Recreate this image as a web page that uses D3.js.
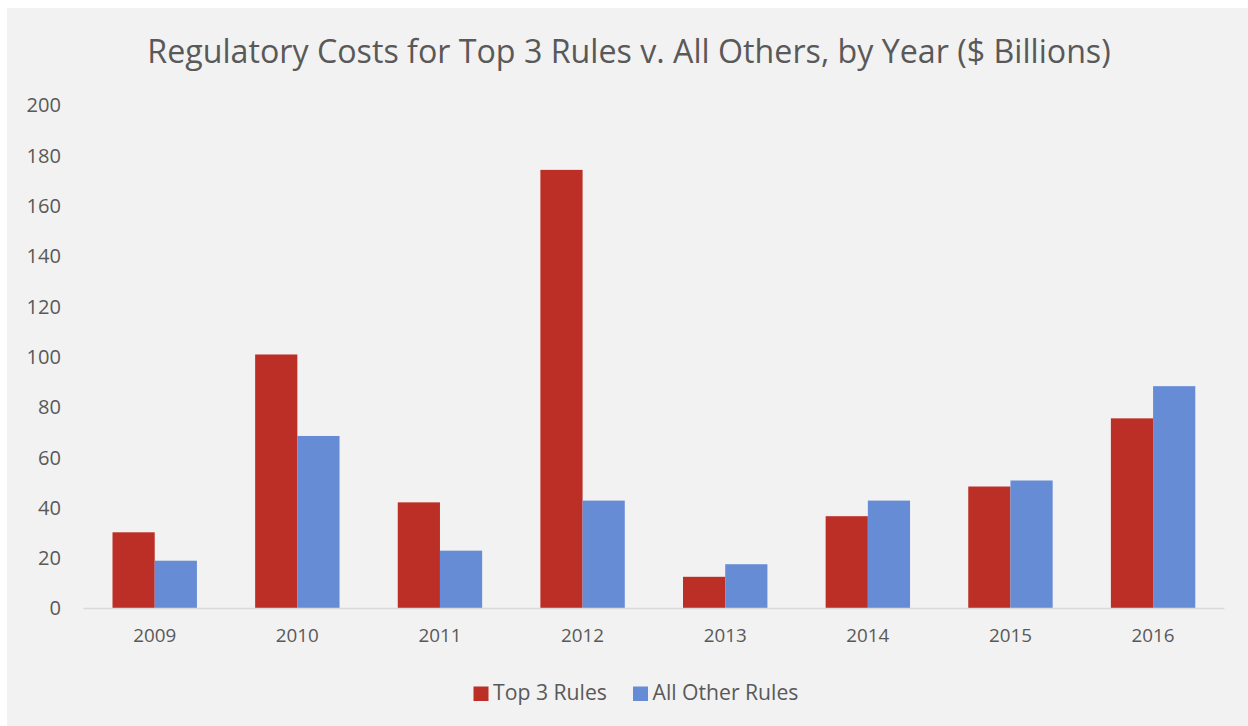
<!DOCTYPE html>
<html>
<head>
<meta charset="utf-8">
<script src="https://cdn.jsdelivr.net/npm/d3@7/dist/d3.min.js"></script>
<style>
  html, body { margin: 0; padding: 0; background: #ffffff; }
  svg { display: block; }
  text { font-family: "Open Sans", "Noto Sans", sans-serif; fill: #595959; }
</style>
</head>
<body>
<svg id="chart" width="1248" height="726"></svg>
<script>
const title = "Regulatory Costs for Top 3 Rules v. All Others, by Year ($ Billions)";
const years = ["2009", "2010", "2011", "2012", "2013", "2014", "2015", "2016"];
const seriesNames = ["Top 3 Rules", "All Other Rules"];
const top3Rules = [30.3, 101, 42.2, 174.4, 12.6, 36.7, 48.5, 75.6];
const allOtherRules = [19, 68.6, 23, 42.9, 17.6, 42.9, 50.9, 88.4];
const yTicks = [0, 20, 40, 60, 80, 100, 120, 140, 160, 180, 200];
const colors = ["#BB2F27", "#678CD6"];

const svg = d3.select("#chart");

// fit a text element's font size so its width matches a target
function fit(sel, base, target) {
  sel.attr("font-size", base);
  const w = sel.node().getComputedTextLength();
  if (w > 0) sel.attr("font-size", base * target / w);
  return base * target / (w || target);
}

// chart background
svg.append("rect").attr("x", 7).attr("y", 8).attr("width", 1241).attr("height", 718).attr("fill", "#F2F2F2");

const plot = { left: 83.4, right: 1224.4, top: 105.5, bottom: 608.5 };

const x = d3.scaleBand().domain(years).range([plot.left, plot.right]).paddingInner(0).paddingOuter(0);
const y = d3.scaleLinear().domain([0, 200]).range([plot.bottom, plot.top]);

const groupW = 84.4;
const table = years.map((yr, i) => ({ year: yr, values: [top3Rules[i], allOtherRules[i]] }));

// bars
const groups = svg.append("g").selectAll("g").data(table).join("g")
  .attr("transform", d => `translate(${x(d.year) + x.bandwidth() / 2 - groupW / 2},0)`);
const barW = groupW / 2;
groups.selectAll("rect").data(d => d.values.map((v, j) => ({ v, j }))).join("rect")
  .attr("x", d => d.j * barW)
  .attr("y", d => y(d.v))
  .attr("width", barW)
  .attr("height", d => y(0) - y(d.v))
  .attr("fill", d => colors[d.j]);

// baseline
svg.append("line").attr("x1", plot.left).attr("x2", plot.right)
  .attr("y1", y(0)).attr("y2", y(0)).attr("stroke", "#D9D9D9").attr("stroke-width", 1.5);

// y axis labels
const yAxis = d3.axisLeft(y).tickValues(yTicks).tickSize(0).tickPadding(0);
const yg = svg.append("g").attr("transform", `translate(61,0)`).call(yAxis);
yg.select(".domain").remove();
yg.selectAll("text").attr("fill", "#595959").style("font-family", "'Open Sans', sans-serif");
let yfs = 16;
yg.selectAll("text").filter(d => d === 200).each(function () { yfs = fit(d3.select(this), 16, 34.5); });
yg.selectAll("text").attr("font-size", yfs);

// x axis labels
const xAxis = d3.axisBottom(x).tickSize(0).tickPadding(0);
const xg = svg.append("g").attr("transform", `translate(0,${y(0) + 20})`).call(xAxis);
xg.select(".domain").remove();
xg.selectAll("text").attr("fill", "#595959").style("font-family", "'Open Sans', sans-serif");
let xfs = 16;
xg.selectAll("text").filter(d => d === "2009").each(function () { xfs = fit(d3.select(this), 16, 43); });
xg.selectAll("text").attr("font-size", xfs);

// title
const t = svg.append("text").attr("x", 629).attr("y", 63)
  .attr("text-anchor", "middle").attr("fill", "#595959")
  .text(title);
fit(t, 29, 964);

// legend
const legendItems = [
  { name: seriesNames[0], color: colors[0], sx: 473.5, tx: 493, tw: 114 },
  { name: seriesNames[1], color: colors[1], sx: 633, tx: 652.5, tw: 146 }
];
const lg = svg.append("g");
legendItems.forEach(it => {
  lg.append("rect").attr("x", it.sx).attr("y", 686.5).attr("width", 15).attr("height", 14.5).attr("fill", it.color);
  const tt = lg.append("text").attr("x", it.tx).attr("y", 700).attr("fill", "#595959").text(it.name);
  fit(tt, 17, it.tw);
});
</script>
</body>
</html>
